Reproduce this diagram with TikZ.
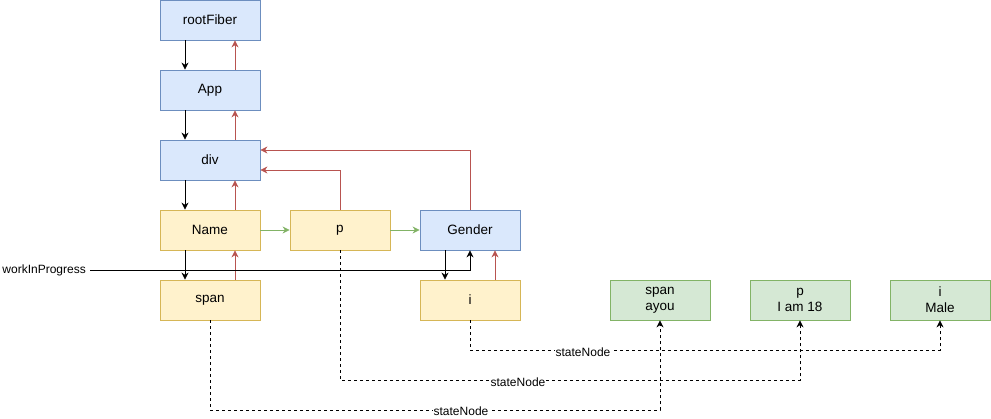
\documentclass[tikz,border=0pt]{standalone}
\usepackage{fontspec}
\setmainfont{Liberation Sans}
\usetikzlibrary{arrows.meta}
\definecolor{bluefill}{HTML}{DAE8FC}
\definecolor{bluedraw}{HTML}{6C8EBF}
\definecolor{yelfill}{HTML}{FFF2CC}
\definecolor{yeldraw}{HTML}{D6B656}
\definecolor{grnfill}{HTML}{D5E8D4}
\definecolor{grndraw}{HTML}{82B366}
\definecolor{redline}{HTML}{B85450}
\tikzset{
  box/.style={draw, line width=0.8pt, minimum width=100pt, minimum height=40pt,
    inner sep=0pt, align=center, font=\fontsize{13.5}{16}\selectfont},
  bluebox/.style={box, fill=bluefill, draw=bluedraw},
  yelbox/.style={box, fill=yelfill, draw=yeldraw},
  grnbox/.style={box, fill=grnfill, draw=grndraw},
  tip/.style={-{Stealth[length=7pt,width=7pt,inset=2.2pt]}},
  down/.style={tip, line width=0.8pt, black},
  up/.style={tip, line width=0.8pt, redline},
  sib/.style={tip, line width=0.8pt, grndraw},
  statelink/.style={tip, line width=0.8pt, dashed, dash pattern=on 3pt off 3pt},
  edgelabel/.style={fill=white, inner sep=0.5pt, font=\fontsize{12}{14}\selectfont},
}
\begin{document}
\begin{tikzpicture}[x=1pt, y=-1pt]
\useasboundingbox (0,0) rectangle (991,419);

% fiber tree
\node[bluebox] (root) at (210,20) {rootFiber};
\node[bluebox] (app) at (210,90) {App};
\node[bluebox] (div) at (210,160) {div};
\node[yelbox] (name) at (210,230) {Name};
\node[yelbox] (p) at (340,230) {p};
\node[bluebox] (gender) at (470,230) {Gender};
\node[yelbox] (span) at (210,300) {span};
\node[yelbox] (i) at (470,300) {i};

% state nodes
\node[grnbox] (sspan) at (660,300) {span\\ayou};
\node[grnbox] (sp) at (800,300) {p\\I am 18};
\node[grnbox] (si) at (940,300) {i\\Male};

% child (black) and return (red) links
\foreach \a/\b in {root/app, app/div, div/name, name/span, gender/i} {
  \draw[down] ([xshift=-25pt]\a.south) -- ([xshift=-25pt]\b.north);
  \draw[up] ([xshift=25pt]\b.north) -- ([xshift=25pt]\a.south);
}

% sibling links
\draw[sib] (name) -- (p);
\draw[sib] (p) -- (gender);

% return links to div
\draw[up] (p.north) |- ([yshift=-10pt]div.east);
\draw[up] (gender.north) |- ([yshift=10pt]div.east);

% workInProgress pointer
\node[anchor=east, inner sep=0pt, font=\fontsize{12}{14}\selectfont] (wiplabel) at (86,270) {workInProgress};
\coordinate (wip) at (90,270);
\draw[down] (wip) -| (gender.south);

% stateNode links
\draw[statelink] (i.south) -- ++(0,30) coordinate (c1) -| (si.south);
\draw[statelink] (p.south) -- ++(0,130) coordinate (c2) -| (sp.south);
\draw[statelink] (span.south) -- ++(0,90) coordinate (c3) -| (sspan.south);

\node[edgelabel] (l1) at (583,352) {stateNode};
\node[edgelabel] (l2) at (518,382) {stateNode};
\node[edgelabel] (l3) at (461,411) {stateNode};
\end{tikzpicture}
\end{document}
